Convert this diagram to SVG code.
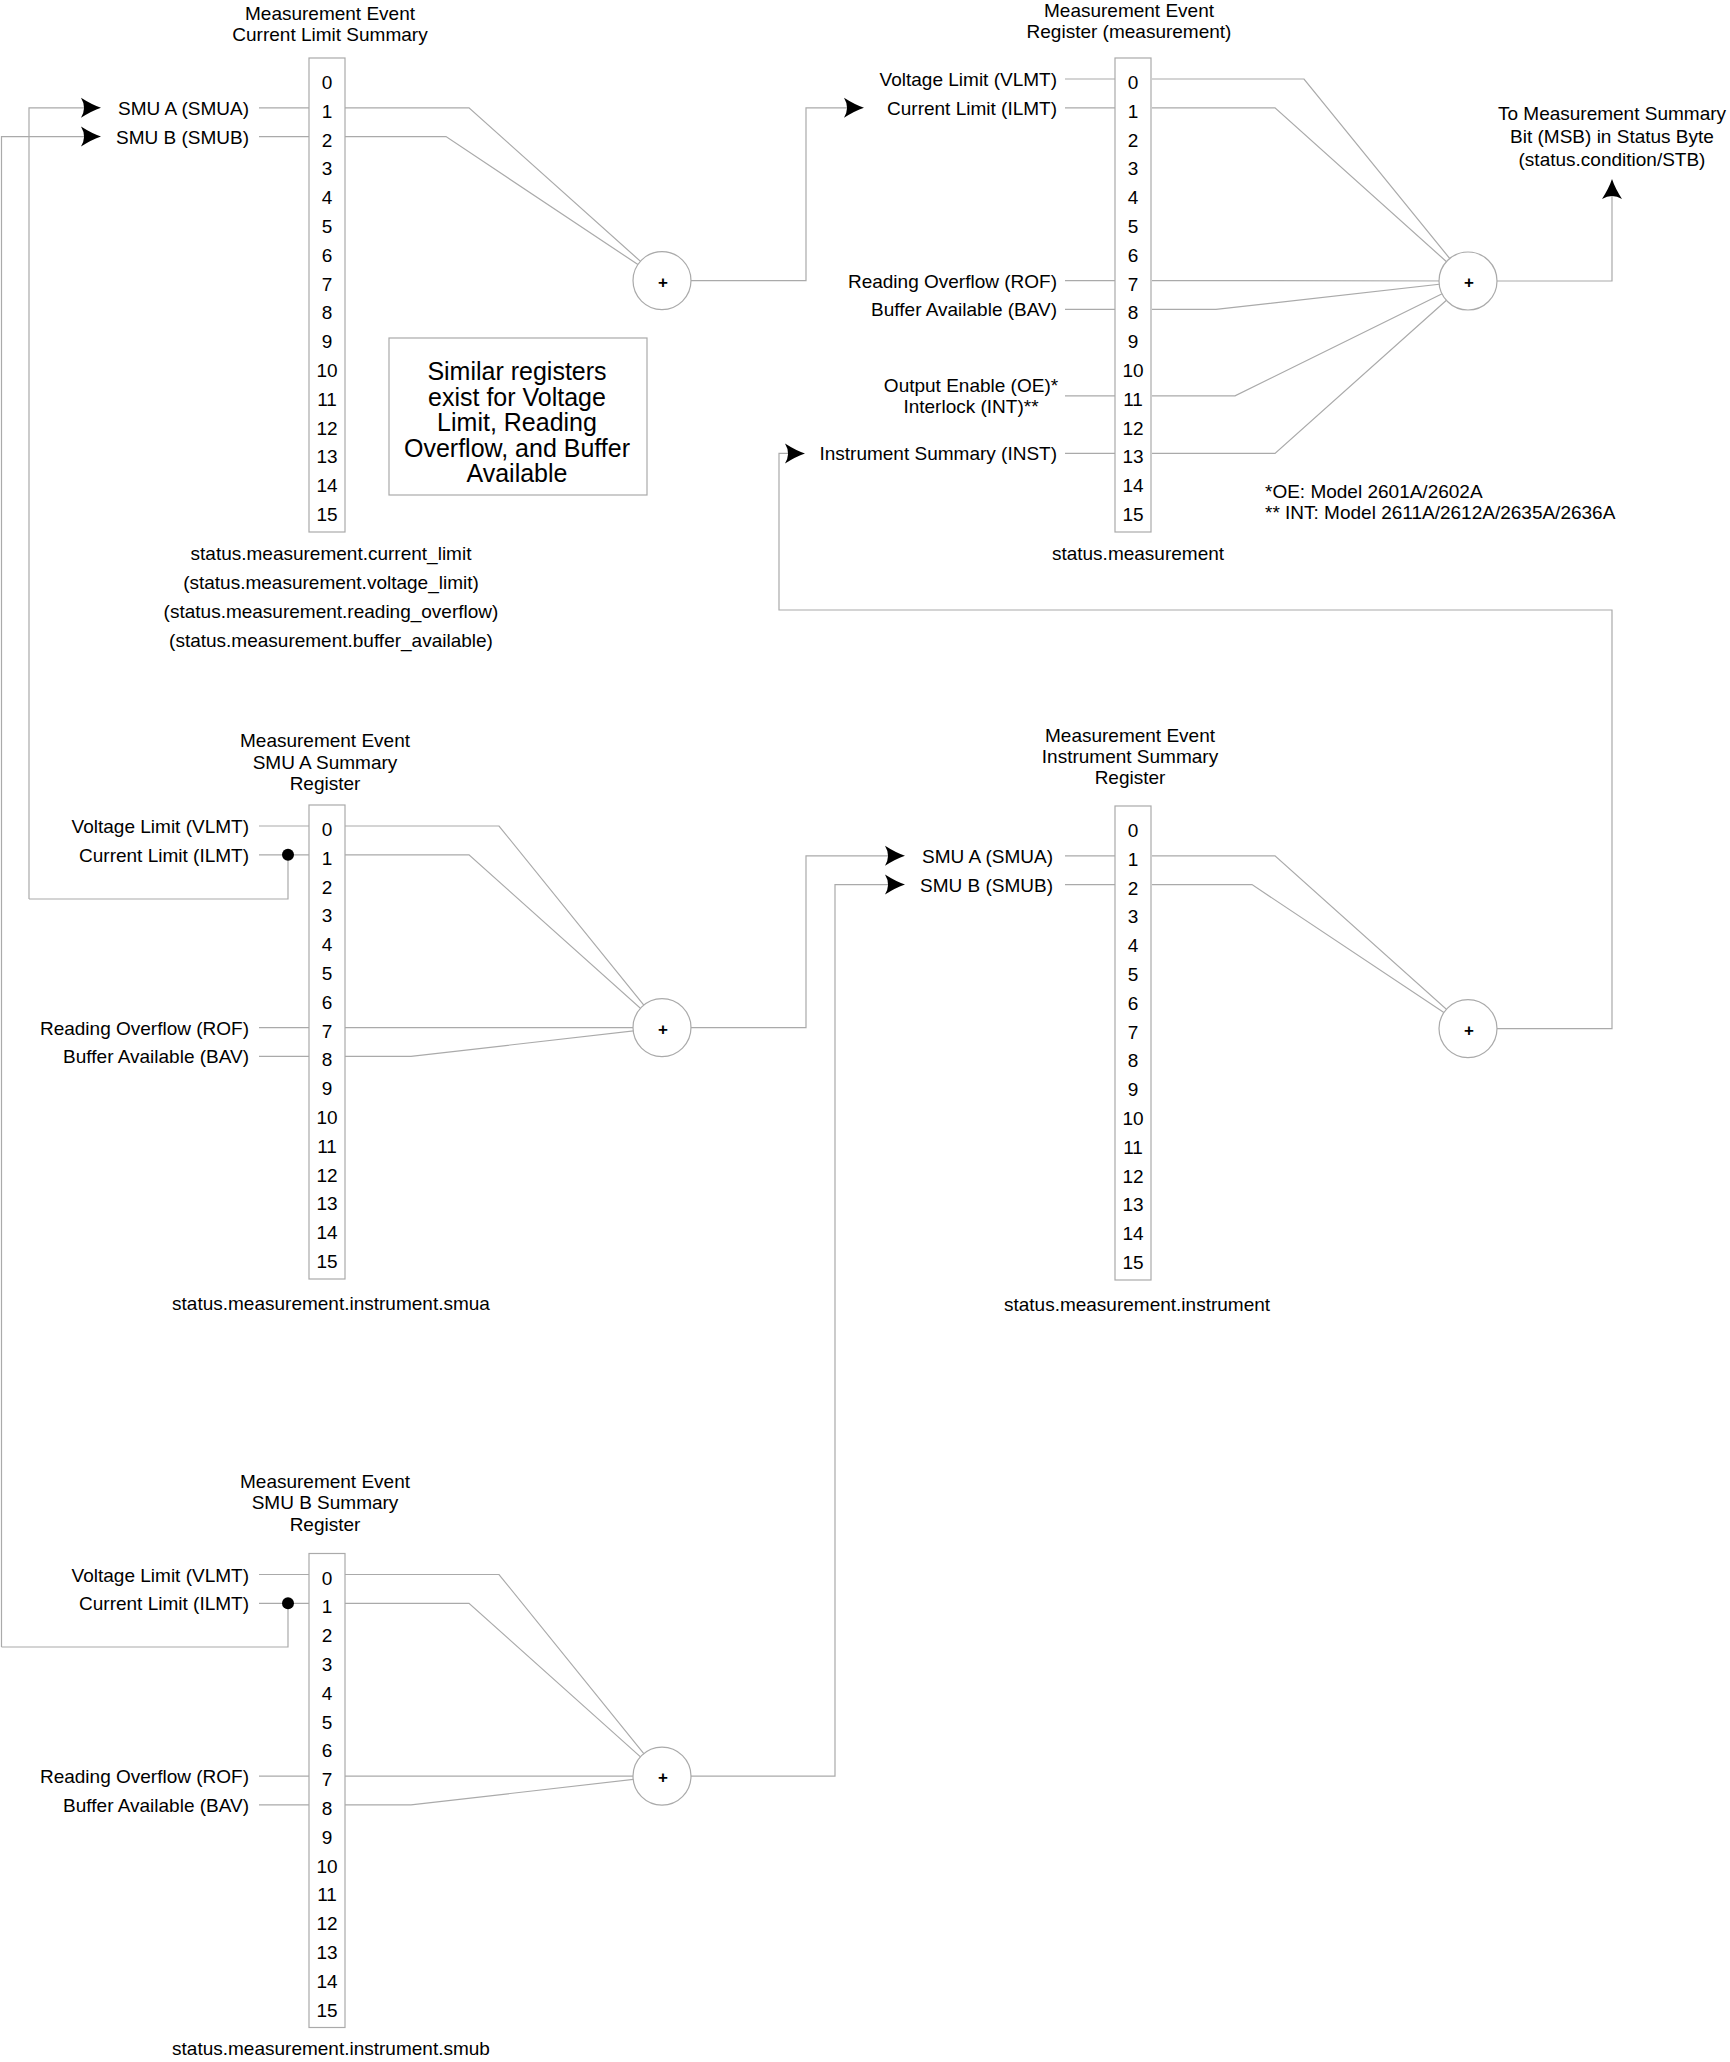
<svg xmlns="http://www.w3.org/2000/svg" xmlns:xlink="http://www.w3.org/1999/xlink" width="1730" height="2062" viewBox="0 0 1730 2062">
<style>
.ln{fill:none;stroke:#aaaaaa;stroke-width:1.2}
.box{fill:#ffffff;stroke:#aaaaaa;stroke-width:1.2}
.sum{fill:#ffffff;stroke:#aaaaaa;stroke-width:1.2}
text{font-family:"Liberation Sans",Arial,sans-serif;font-size:19px;fill:#000000}
.m{text-anchor:middle}
.e{text-anchor:end}
.big{font-size:25px;text-anchor:middle}
.plus{font-size:17px;font-weight:bold;text-anchor:middle}
</style>
<defs>
<path id="arr" d="M0,0 Q-9,-3 -20,-10 Q-14,0 -20,10 Q-9,3 0,0 Z" fill="#000000"/>
<g id="bits">
<rect class="box" x="0" y="-21" width="36" height="474"/>
<text class="m" x="18" y="10">0</text>
<text class="m" x="18" y="38.8">1</text>
<text class="m" x="18" y="67.6">2</text>
<text class="m" x="18" y="96.4">3</text>
<text class="m" x="18" y="125.2">4</text>
<text class="m" x="18" y="154">5</text>
<text class="m" x="18" y="182.8">6</text>
<text class="m" x="18" y="211.6">7</text>
<text class="m" x="18" y="240.4">8</text>
<text class="m" x="18" y="269.2">9</text>
<text class="m" x="18" y="298">10</text>
<text class="m" x="18" y="326.8">11</text>
<text class="m" x="18" y="355.6">12</text>
<text class="m" x="18" y="384.4">13</text>
<text class="m" x="18" y="413.2">14</text>
<text class="m" x="18" y="442">15</text>
</g>
</defs>
<rect width="1730" height="2062" fill="#ffffff"/>

<g id="connectors">
<!-- current limit register -->
<path class="ln" d="M29,899 V107.8 H85"/>
<path class="ln" d="M1.5,1647 V136.6 H85"/>
<path class="ln" d="M259,107.8 H309 M259,136.6 H309"/>
<path class="ln" d="M345,107.8 H469 L662,280.6"/>
<path class="ln" d="M345,136.6 H446 L662,280.6"/>
<path class="ln" d="M662,280.6 H806 V107.8 H848"/>
<!-- measurement register -->
<path class="ln" d="M1065,79 H1115 M1065,107.8 H1115 M1065,280.6 H1115 M1065,309.4 H1115 M1065,395.8 H1115 M1065,453.4 H1115"/>
<path class="ln" d="M1152,79 H1304 L1468,281"/>
<path class="ln" d="M1152,107.8 H1275 L1468,281"/>
<path class="ln" d="M1152,280.6 H1222 L1468,281"/>
<path class="ln" d="M1152,309.4 H1216 L1468,281"/>
<path class="ln" d="M1152,395.8 H1235 L1468,281"/>
<path class="ln" d="M1152,453.4 H1275 L1468,281"/>
<path class="ln" d="M1468,281 H1612 V195"/>
<!-- SMU A register -->
<path class="ln" d="M259,826 H309 M259,854.8 H309 M259,1027.6 H309 M259,1056.4 H309"/>
<path class="ln" d="M288,854.8 V899 H29"/>
<path class="ln" d="M345,826 H499 L662,1027.6"/>
<path class="ln" d="M345,854.8 H469 L662,1027.6"/>
<path class="ln" d="M345,1027.6 H662"/>
<path class="ln" d="M345,1056.4 H411 L662,1027.6"/>
<path class="ln" d="M662,1027.6 H806 V855.8 H889"/>
<!-- instrument register -->
<path class="ln" d="M1065,855.8 H1115 M1065,884.6 H1115"/>
<path class="ln" d="M1152,855.8 H1275 L1468,1028.6"/>
<path class="ln" d="M1152,884.6 H1252 L1468,1028.6"/>
<path class="ln" d="M1468,1028.6 H1612 V610 H779 V453.4 H789"/>
<!-- SMU B register -->
<path class="ln" d="M259,1574.5 H309 M259,1603.3 H309 M259,1776.1 H309 M259,1804.9 H309"/>
<path class="ln" d="M288,1603.3 V1647 H1.5"/>
<path class="ln" d="M345,1574.5 H499 L662,1776.1"/>
<path class="ln" d="M345,1603.3 H469 L662,1776.1"/>
<path class="ln" d="M345,1776.1 H662"/>
<path class="ln" d="M345,1804.9 H411 L662,1776.1"/>
<path class="ln" d="M662,1776.1 H835 V884.6 H889"/>
<!-- arrowheads and junction dots -->
<use xlink:href="#arr" href="#arr" transform="translate(101,107.8)"/>
<use xlink:href="#arr" href="#arr" transform="translate(101,136.6)"/>
<use xlink:href="#arr" href="#arr" transform="translate(864,107.8)"/>
<use xlink:href="#arr" href="#arr" transform="translate(805,453.4)"/>
<use xlink:href="#arr" href="#arr" transform="translate(905,855.8)"/>
<use xlink:href="#arr" href="#arr" transform="translate(905,884.6)"/>
<use xlink:href="#arr" href="#arr" transform="translate(1612,179) rotate(-90)"/>
<circle cx="288" cy="854.8" r="6" fill="#000000"/>
<circle cx="288" cy="1603.3" r="6" fill="#000000"/>
</g>

<g id="reg-current-limit">
<text class="m" x="330" y="20">Measurement Event</text>
<text class="m" x="330" y="41">Current Limit Summary</text>
<use xlink:href="#bits" href="#bits" transform="translate(309,79)"/>
<text class="e" x="249" y="114.8">SMU A (SMUA)</text>
<text class="e" x="249" y="143.6">SMU B (SMUB)</text>
<text class="m" x="331" y="560">status.measurement.current_limit</text>
<text class="m" x="331" y="589">(status.measurement.voltage_limit)</text>
<text class="m" x="331" y="618">(status.measurement.reading_overflow)</text>
<text class="m" x="331" y="647">(status.measurement.buffer_available)</text>
</g>

<g id="note-similar">
<rect class="box" x="389" y="338" width="258" height="157"/>
<text class="big" x="517" y="380">Similar registers</text>
<text class="big" x="517" y="405.5">exist for Voltage</text>
<text class="big" x="517" y="431">Limit, Reading</text>
<text class="big" x="517" y="456.5">Overflow, and Buffer</text>
<text class="big" x="517" y="482">Available</text>
</g>

<g id="or-current-limit">
<circle class="sum" cx="662" cy="280.6" r="29"/>
<text class="plus" x="663" y="287.5">+</text>
</g>

<g id="reg-measurement">
<text class="m" x="1129" y="17">Measurement Event</text>
<text class="m" x="1129" y="38">Register (measurement)</text>
<use xlink:href="#bits" href="#bits" transform="translate(1115,79)"/>
<text class="e" x="1057" y="86">Voltage Limit (VLMT)</text>
<text class="e" x="1057" y="114.8">Current Limit (ILMT)</text>
<text class="e" x="1057" y="287.6">Reading Overflow (ROF)</text>
<text class="e" x="1057" y="316.4">Buffer Available (BAV)</text>
<text class="m" x="971" y="392">Output Enable (OE)*</text>
<text class="m" x="971" y="413">Interlock (INT)**</text>
<text class="e" x="1057" y="460.4">Instrument Summary (INST)</text>
<text class="m" x="1138" y="560">status.measurement</text>
</g>

<g id="or-measurement">
<circle class="sum" cx="1468" cy="281" r="29"/>
<text class="plus" x="1469" y="288">+</text>
</g>

<g id="msb-output">
<text class="m" x="1612" y="120">To Measurement Summary</text>
<text class="m" x="1612" y="143">Bit (MSB) in Status Byte</text>
<text class="m" x="1612" y="166">(status.condition/STB)</text>
</g>

<g id="footnotes">
<text x="1265" y="498">*OE: Model 2601A/2602A</text>
<text x="1265" y="519">** INT: Model 2611A/2612A/2635A/2636A</text>
</g>

<g id="reg-smua">
<text class="m" x="325" y="747">Measurement Event</text>
<text class="m" x="325" y="769">SMU A Summary</text>
<text class="m" x="325" y="790">Register</text>
<use xlink:href="#bits" href="#bits" transform="translate(309,826)"/>
<text class="e" x="249" y="833">Voltage Limit (VLMT)</text>
<text class="e" x="249" y="861.8">Current Limit (ILMT)</text>
<text class="e" x="249" y="1034.6">Reading Overflow (ROF)</text>
<text class="e" x="249" y="1063.4">Buffer Available (BAV)</text>
<text class="m" x="331" y="1310">status.measurement.instrument.smua</text>
</g>

<g id="or-smua">
<circle class="sum" cx="662" cy="1027.6" r="29"/>
<text class="plus" x="663" y="1034.5">+</text>
</g>

<g id="reg-instrument">
<text class="m" x="1130" y="742">Measurement Event</text>
<text class="m" x="1130" y="763">Instrument Summary</text>
<text class="m" x="1130" y="784">Register</text>
<use xlink:href="#bits" href="#bits" transform="translate(1115,827)"/>
<text class="e" x="1053" y="862.8">SMU A (SMUA)</text>
<text class="e" x="1053" y="891.6">SMU B (SMUB)</text>
<text class="m" x="1137" y="1311">status.measurement.instrument</text>
</g>

<g id="or-instrument">
<circle class="sum" cx="1468" cy="1028.6" r="29"/>
<text class="plus" x="1469" y="1035.5">+</text>
</g>

<g id="reg-smub">
<text class="m" x="325" y="1488">Measurement Event</text>
<text class="m" x="325" y="1509">SMU B Summary</text>
<text class="m" x="325" y="1531">Register</text>
<use xlink:href="#bits" href="#bits" transform="translate(309,1574.5)"/>
<text class="e" x="249" y="1581.5">Voltage Limit (VLMT)</text>
<text class="e" x="249" y="1610.3">Current Limit (ILMT)</text>
<text class="e" x="249" y="1783.1">Reading Overflow (ROF)</text>
<text class="e" x="249" y="1811.9">Buffer Available (BAV)</text>
<text class="m" x="331" y="2055">status.measurement.instrument.smub</text>
</g>

<g id="or-smub">
<circle class="sum" cx="662" cy="1776.1" r="29"/>
<text class="plus" x="663" y="1783">+</text>
</g>
</svg>
